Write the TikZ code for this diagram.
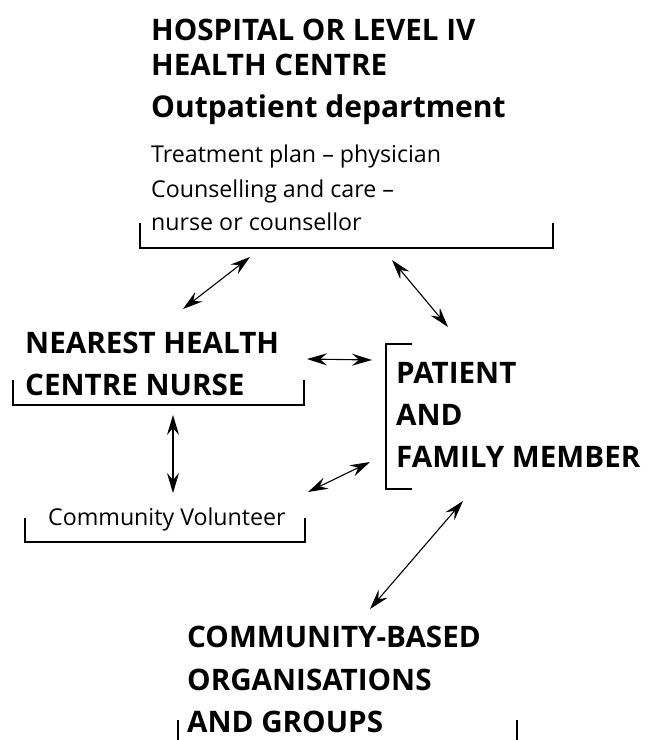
\documentclass[tikz,border=0pt]{standalone}
\usepackage{fontspec}
\setmainfont{Open Sans}
\usetikzlibrary{positioning,arrows.meta}
\tikzstyle{chart} = [x = 1pt, y = -1pt]
\tikzstyle{headText} = [font=\fontsize{29.6}{36}\selectfont\bfseries, inner sep=0pt, anchor=base west]
\tikzstyle{bigText} = [font=\fontsize{30}{36}\selectfont\bfseries, inner sep=0pt, anchor=base west]
\tikzstyle{smallText} = [font=\fontsize{23.2}{30}\selectfont, inner sep=0pt, anchor=base west]
\tikzstyle{bracketLine} = [line width=1.3pt]
\tikzstyle{linkArrow} = [line width=1.1pt, {Stealth[length=20pt, width=12pt, inset=7pt]}-{Stealth[length=20pt, width=12pt, inset=7pt]}]
\newcommand{\bottomBracket}[4]{\draw [bracketLine] (#1, #3) -- (#1, #4) -- (#2, #4) -- (#2, #3);}
\newcommand{\leftBracket}[4]{\draw [bracketLine] (#2, #3) -- (#1, #3) -- (#1, #4) -- (#2, #4);}
\newcommand{\link}[2]{\draw [linkArrow] (#1) -- (#2);}

\begin{document}
\begin{tikzpicture}[chart]
        \useasboundingbox (0, 0) rectangle (658, 740);

        \node [headText] (hospitalA) at (151, 40) {HOSPITAL OR LEVEL IV};
        \node [headText] (hospitalB) at (151, 75) {HEALTH CENTRE};
        \node [bigText] (outpatient) at (151, 117) {Outpatient department};
        \node [smallText] (treatment) at (151, 162) {Treatment plan -- physician};
        \node [smallText] (counselling) at (151, 197) {Counselling and care --};
        \node [smallText] (nurseOr) at (151, 230) {nurse or counsellor};
        \bottomBracket{140}{553}{223}{248}

        \node [headText] (nearestA) at (25, 353) {NEAREST HEALTH};
        \node [headText] (nearestB) at (25, 395) {CENTRE NURSE};
        \bottomBracket{13}{304}{380}{405}

        \node [headText] (patientA) at (396, 383) {PATIENT};
        \node [headText] (patientB) at (396, 425) {AND};
        \node [headText] (patientC) at (396, 467) {FAMILY MEMBER};
        \leftBracket{386}{412}{344}{489}

        \node [smallText] (volunteer) at (48, 525) {Community Volunteer};
        \bottomBracket{25}{305}{518}{542}

        \node [headText] (groupsA) at (187, 647) {COMMUNITY-BASED};
        \node [headText] (groupsB) at (187, 690) {ORGANISATIONS};
        \node [headText] (groupsC) at (187, 732) {AND GROUPS};
        \bottomBracket{178}{517}{720}{750}

        \coordinate (hospitalLeft) at (250, 257);
        \coordinate (hospitalRight) at (392, 260);
        \coordinate (nearestTop) at (183, 309);
        \coordinate (nearestRight) at (307, 359);
        \coordinate (nearestBottom) at (173, 415);
        \coordinate (volunteerTop) at (173, 493);
        \coordinate (volunteerRight) at (308, 492);
        \coordinate (patientTop) at (448, 327);
        \coordinate (patientLeft) at (372, 360);
        \coordinate (patientLow) at (370, 462);
        \coordinate (patientBottom) at (463, 501);
        \coordinate (groupsTop) at (370, 609);

        \link{hospitalLeft}{nearestTop}
        \link{hospitalRight}{patientTop}
        \link{nearestRight}{patientLeft}
        \link{nearestBottom}{volunteerTop}
        \link{volunteerRight}{patientLow}
        \link{patientBottom}{groupsTop}
      \end{tikzpicture}
\end{document}
